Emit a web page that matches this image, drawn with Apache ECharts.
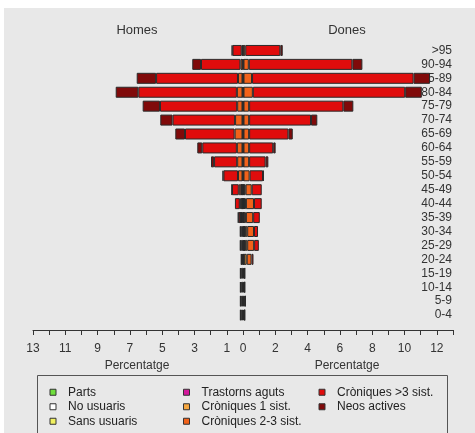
<!DOCTYPE html>
<html><head><meta charset="utf-8">
<script src="https://cdn.jsdelivr.net/npm/echarts@6/dist/echarts.min.js"></script>
<style>html,body{margin:0;padding:0;background:#fff}#c{width:475px;height:433px}</style>
</head><body><div id="c"></div>
<script>
const ages = ['0-4','5-9','10-14','15-19','20-24','25-29','30-34','35-39','40-44','45-49','50-54','55-59','60-64','65-69','70-74','75-79','80-84','85-89','90-94','>95'];
const categories = ['Parts','No usuaris','Sans usuaris','Trastorns aguts','Cròniques 1 sist.','Cròniques 2-3 sist.','Cròniques >3 sist.','Neos actives'];
const colors = ['#6ede3c','#ffffff','#f0f060','#d4189c','#f5a640','#f2621a','#e00c0c','#800a0a'];
const xTicks = [-13,-11,-9,-7,-5,-3,-1,0,2,4,6,8,10,12];

// Homes (percent, drawn to the left)
const menParts = [0,0,0,0,0,0,0,0,0,0,0,0,0,0,0,0,0,0,0,0];
const menNoUs  = [.10,.10,.10,.10,.07,.10,.10,.07,.05,.05,.03,.03,.03,.03,.03,.03,.03,.03,.03,.02];
const menSans  = [.04,.04,.04,.04,.02,.04,.04,.02,.01,.01,0,0,0,0,0,0,0,0,0,0];
const menTrast = [.04,.04,.04,.04,.03,.05,.05,.03,.02,.02,0,0,0,0,0,0,0,0,0,0];
const menC1    = [0,0,0,0,0,0,0,.02,.08,.03,0,0,0,0,0,0,0,0,0,0];
const menC23   = [0,0,0,0,0,0,0,.02,.04,.15,.28,.33,.35,.49,.46,.33,.35,.28,.13,.06];
const menC3    = [0,0,0,0,0,0,0,.12,.30,.42,.90,1.43,2.14,3.07,3.87,4.78,6.10,5.07,2.44,.57];
const menNeos  = [0,0,0,0,0,0,0,.03,0,.02,.06,.19,.31,.60,.76,1.07,1.40,1.20,.54,.05];

// Dones (percent, drawn to the right)
const womParts = [0,0,0,0,.02,.03,.03,.02,.01,0,0,0,0,0,0,0,0,0,0,0];
const womNoUs  = [.07,.09,.07,.07,.03,.04,.04,.03,.04,.04,.03,.03,.03,.03,.03,.03,.03,.03,.03,.02];
const womSans  = [.03,.04,.03,.03,.01,.02,.02,.01,.02,.02,0,0,0,0,0,0,0,0,0,0];
const womTrast = [.02,.03,.02,.02,.02,.03,.03,.02,.03,.02,0,0,0,0,0,0,0,0,0,0];
const womC1    = [0,0,0,0,.15,.14,.14,.10,.08,.08,0,0,0,0,0,0,0,0,0,0];
const womC23   = [0,0,0,0,.30,.43,.42,.45,.50,.38,.38,.35,.35,.35,.35,.35,.58,.53,.33,.12];
const womC3    = [0,0,0,0,.12,.29,.25,.41,.48,.62,.83,1.02,1.49,2.43,3.83,5.83,9.43,10.0,6.41,2.17];
const womNeos  = [0,0,0,0,0,0,0,0,0,0,.04,.17,.15,.27,.39,.62,1.03,1.02,.62,.15];

const menData = [menParts,menNoUs,menSans,menTrast,menC1,menC23,menC3,menNeos];
const womData = [womParts,womNoUs,womSans,womTrast,womC1,womC23,womC3,womNeos];

const FONT = 'Liberation Sans, Arial, sans-serif';
const series = [];
categories.forEach((name, i) => {
  const style = {color: colors[i], borderColor: '#2a2a2a', borderWidth: 1};
  series.push({type:'bar', name, stack:'M', barWidth:11, barGap:'-100%', itemStyle:style,
    data: menData[i].map(v => v === 0 ? null : -v)});
  series.push({type:'bar', name, stack:'W', barWidth:11, barGap:'-100%', itemStyle:style,
    data: womData[i].map(v => v === 0 ? null : v)});
});

function legend(names, left) {
  return {orient:'vertical', left, top:381, width:140, height:70, padding:5,
    itemWidth:6, itemHeight:6, itemGap:2,
    icon:'rect', data:names, selectedMode:false,
    itemStyle:{borderColor:'#333', borderWidth:1},
    textStyle:{fontFamily:FONT, fontSize:12, color:'#222', padding:[0,0,0,7], lineHeight:12.5}};
}

const chart = echarts.init(document.getElementById('c'), null, {renderer:'canvas'});
chart.setOption({
  backgroundColor:'#ffffff',
  animation:false,
  grid:{left:33, right:22, top:43.5, bottom:111},
  xAxis:{type:'value', min:-13, max:13, interval:1, offset:8,
    axisLine:{show:true, lineStyle:{color:'#333'}},
    axisTick:{show:true, length:5, lineStyle:{color:'#333'}},
    splitLine:{show:false},
    axisLabel:{margin:13, fontFamily:FONT, fontSize:12, color:'#333',
      formatter: v => xTicks.indexOf(v) >= 0 ? String(Math.abs(v)) : ''}},
  yAxis:{type:'category', data:ages, position:'right',
    axisLine:{show:false}, axisTick:{show:false},
    axisLabel:{inside:true, interval:0, margin:1, fontFamily:FONT, fontSize:12, color:'#333'}},
  legend:[legend(categories.slice(0,3),44.5), legend(categories.slice(3,6),178), legend(categories.slice(6,8),313.5)],
  graphic:[
    {type:'rect', z:-10, silent:true, shape:{x:4,y:8,width:475,height:430}, style:{fill:'#e8e8e8'}},
    {type:'rect', z:-9, silent:true, shape:{x:37.5,y:375.5,width:410,height:70}, style:{fill:'none', stroke:'#555', lineWidth:1}},
    {type:'text', silent:true, x:137, y:30, style:{text:'Homes', font:'13px '+FONT, fill:'#333', align:'center', verticalAlign:'middle'}},
    {type:'text', silent:true, x:347, y:30, style:{text:'Dones', font:'13px '+FONT, fill:'#333', align:'center', verticalAlign:'middle'}},
    {type:'text', silent:true, x:137, y:366, style:{text:'Percentatge', font:'12px '+FONT, fill:'#333', align:'center', verticalAlign:'middle'}},
    {type:'text', silent:true, x:347, y:366, style:{text:'Percentatge', font:'12px '+FONT, fill:'#333', align:'center', verticalAlign:'middle'}}
  ],
  series
});
</script></body></html>
